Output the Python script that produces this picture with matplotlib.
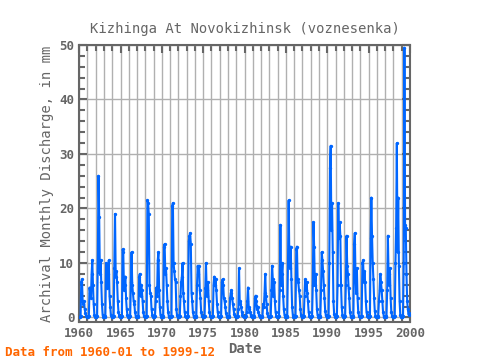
import numpy as np
import matplotlib
matplotlib.use('Agg')
import matplotlib.pyplot as plt

# monthly discharge (mm), one row per year, Jan..Dec
years = list(range(1960, 2000))
discharge = [
    [0.1, 0.1, 0.2, 6.5, 7.0, 3.0, 2.5, 3.0, 1.5, 0.8, 0.3, 0.1],   # 1960
    [0.1, 0.1, 0.2, 5.5, 4.5, 3.5, 8.0, 10.5, 6.0, 2.5, 0.5, 0.1],  # 1961
    [0.1, 0.1, 0.2, 10.0, 26.0, 18.5, 8.0, 10.5, 6.5, 2.5, 0.5, 0.1],
    [0.1, 0.1, 0.3, 10.0, 9.5, 5.5, 8.0, 10.5, 4.0, 2.0, 0.4, 0.1],
    [0.1, 0.1, 0.3, 9.0, 19.0, 7.5, 8.5, 6.5, 3.0, 1.0, 0.3, 0.1],
    [0.1, 0.1, 0.3, 12.5, 12.0, 5.0, 6.0, 7.5, 3.5, 1.5, 0.4, 0.1],  # 1965
    [0.1, 0.1, 0.3, 6.5, 12.0, 6.0, 4.5, 3.0, 2.5, 1.0, 0.3, 0.1],
    [0.1, 0.1, 0.3, 7.5, 8.0, 4.0, 6.0, 5.0, 3.0, 1.0, 0.3, 0.1],
    [0.1, 0.1, 0.3, 21.5, 21.0, 19.0, 6.0, 4.5, 4.0, 1.5, 0.5, 0.1],
    [0.1, 0.1, 0.3, 3.0, 5.5, 4.0, 10.5, 12.0, 5.0, 2.0, 0.4, 0.1],
    [0.1, 0.1, 0.3, 13.0, 13.5, 8.0, 9.0, 6.0, 3.0, 1.0, 0.3, 0.1],  # 1970
    [0.1, 0.1, 0.3, 20.5, 21.0, 10.0, 8.5, 7.0, 6.5, 1.5, 0.4, 0.1],
    [0.1, 0.1, 0.3, 4.0, 6.5, 7.5, 10.0, 4.5, 3.0, 1.0, 0.3, 0.1],
    [0.1, 0.1, 0.3, 14.0, 15.0, 15.5, 13.5, 4.5, 3.0, 1.0, 0.3, 0.1],
    [0.1, 0.1, 0.3, 6.0, 9.5, 8.0, 9.5, 5.0, 3.5, 1.0, 0.3, 0.1],
    [0.1, 0.1, 0.3, 5.5, 10.0, 5.0, 4.0, 6.5, 3.0, 1.0, 0.3, 0.1],   # 1975
    [0.1, 0.1, 0.3, 6.0, 7.5, 6.0, 7.0, 5.0, 2.5, 1.0, 0.3, 0.1],
    [0.1, 0.1, 0.3, 6.5, 7.0, 6.0, 3.5, 3.0, 2.0, 0.8, 0.3, 0.1],
    [0.1, 0.1, 0.3, 3.5, 4.5, 5.0, 3.5, 2.5, 1.5, 0.6, 0.2, 0.1],
    [0.1, 0.1, 0.2, 1.5, 9.0, 2.5, 3.0, 2.0, 1.0, 0.5, 0.2, 0.1],
    [0.1, 0.1, 0.2, 1.0, 3.0, 5.5, 2.0, 1.5, 1.0, 0.5, 0.2, 0.1],    # 1980
    [0.1, 0.1, 0.2, 3.5, 4.0, 3.0, 1.5, 2.0, 1.0, 0.4, 0.2, 0.1],
    [0.1, 0.1, 0.2, 2.5, 2.0, 4.5, 8.0, 4.0, 2.5, 0.8, 0.2, 0.1],
    [0.1, 0.1, 0.3, 5.0, 9.5, 7.0, 4.0, 6.5, 3.0, 1.0, 0.3, 0.1],
    [0.1, 0.1, 0.3, 5.0, 17.0, 6.0, 8.0, 10.0, 4.0, 1.5, 0.4, 0.1],
    [0.1, 0.1, 0.3, 10.0, 21.5, 11.0, 9.0, 13.0, 7.0, 2.0, 0.5, 0.1],  # 1985
    [0.1, 0.1, 0.3, 12.5, 13.0, 7.0, 6.5, 5.0, 4.0, 1.5, 0.4, 0.1],
    [0.1, 0.1, 0.3, 4.0, 7.0, 5.0, 6.5, 4.5, 3.0, 1.0, 0.3, 0.1],
    [0.1, 0.1, 0.3, 6.0, 17.5, 13.0, 6.0, 8.0, 5.0, 1.5, 0.4, 0.1],
    [0.1, 0.1, 0.3, 5.0, 12.0, 10.5, 8.5, 6.0, 3.5, 1.2, 0.4, 0.1],
    [0.1, 0.1, 0.3, 10.0, 27.5, 31.5, 16.0, 21.0, 12.0, 3.0, 0.6, 0.1],  # 1990
    [0.1, 0.1, 0.3, 6.0, 21.0, 14.5, 17.5, 15.0, 6.0, 2.0, 0.5, 0.1],
    [0.1, 0.1, 0.3, 6.0, 15.0, 9.5, 8.0, 5.5, 3.5, 1.0, 0.3, 0.1],
    [0.1, 0.1, 0.3, 13.5, 15.5, 8.0, 4.5, 9.0, 3.5, 1.0, 0.3, 0.1],
    [0.1, 0.1, 0.3, 10.0, 10.5, 6.5, 8.5, 6.5, 3.0, 1.0, 0.3, 0.1],
    [0.1, 0.1, 0.3, 14.5, 22.0, 15.0, 10.0, 7.0, 3.5, 1.2, 0.3, 0.1],  # 1995
    [0.1, 0.1, 0.3, 3.0, 5.0, 8.0, 6.5, 5.0, 3.0, 1.0, 0.3, 0.1],
    [0.1, 0.1, 0.3, 5.0, 15.0, 8.0, 6.0, 9.0, 3.5, 1.0, 0.3, 0.1],
    [0.1, 0.1, 0.3, 10.0, 16.5, 32.0, 12.0, 22.0, 9.5, 3.0, 0.5, 0.1],
    [0.1, 0.1, 0.3, 10.0, 49.5, 17.0, 16.5, 8.0, 3.0, 1.5, 0.5, 0.8],  # 1999
]

t = np.array([y + m / 12.0 for y in years for m in range(12)])
q = np.array(discharge).ravel()

gray = '#666666'
fnt = 'DejaVu Sans Mono'

fig = plt.figure(figsize=(4.8, 3.6), dpi=100)
ax = fig.add_axes([0.165, 0.106, 0.689, 0.769])

ax.plot(t, q, color='#0066ff', lw=1.5, marker='o', ms=1.4, zorder=3)

ax.set_xlim(1960, 2000)
ax.set_ylim(-0.8, 50)
ax.set_xticks(range(1960, 2001, 5))
ax.set_xticks(range(1960, 2001, 1), minor=True)
ax.set_yticks(range(0, 51, 10))
ax.set_yticks(range(0, 51, 2), minor=True)
ax.grid(True, which='major', axis='y', color='#b0b0b0', lw=1)
ax.grid(True, which='both', axis='x', color='#b0b0b0', lw=1)
ax.tick_params(which='both', direction='in', top=True, right=True, color=gray, width=1.5)
ax.tick_params(which='major', length=6)
ax.tick_params(which='minor', length=4)
ax.tick_params(labelsize=9, labelcolor=gray)
for lab in ax.get_xticklabels() + ax.get_yticklabels():
    lab.set_fontfamily(fnt)
    lab.set_fontweight('bold')
for s in ax.spines.values():
    s.set_color(gray)
    s.set_linewidth(1.5)

ax.set_title('Kizhinga At Novokizhinsk (voznesenka)', fontsize=10, color=gray, family=fnt, pad=9)
ax.set_xlabel('Date', fontsize=10, color=gray, family=fnt, fontweight='bold', labelpad=2)
ax.set_ylabel('Archival Monthly Discharge, in mm', fontsize=10, color=gray, family=fnt, labelpad=4)
fig.text(0.01, 0.012, 'Data from 1960-01 to 1999-12', color='#ff6600', fontsize=9,
         family=fnt, fontweight='bold')

fig.savefig('out.png', dpi=100)
